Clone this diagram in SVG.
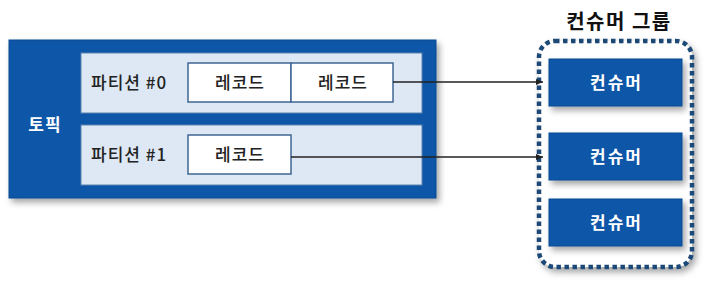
<svg xmlns="http://www.w3.org/2000/svg" width="722" height="291" viewBox="0 0 722 291">
<defs>
<filter id="sh" x="-10%" y="-10%" width="125%" height="135%">
<feDropShadow dx="3" dy="4" stdDeviation="3" flood-color="#000" flood-opacity="0.35"/>
</filter>
<marker id="arr" markerWidth="8" markerHeight="8" refX="7" refY="4" orient="auto" markerUnits="userSpaceOnUse">
<path d="M0,1 L7,4 L0,7 Z" fill="#222"/>
</marker>
<style>
text{font-family:"Noto Sans CJK KR","Noto Sans",sans-serif;}
.topic{fill:#0b56a8;stroke:#0a4a92;stroke-width:1;}
.part{fill:#dde8f4;stroke:#5d83b0;stroke-width:1;}
.rec{fill:#fff;stroke:#3f6694;stroke-width:1.5;}
.cons{fill:#0b56a8;stroke:#0a4a92;stroke-width:1;}
.wt{fill:#fff;font-size:17px;font-weight:700;text-anchor:middle;letter-spacing:2px;}
.bt{fill:#222;font-size:17px;font-weight:500;letter-spacing:1px;}
.ct{text-anchor:middle;}
.conn{stroke:#222;stroke-width:1.3;fill:none;marker-end:url(#arr);}
</style>
</defs>
<g id="topic">
<rect class="topic" x="9" y="40" width="427" height="158" filter="url(#sh)"/>
<text class="wt" x="45" y="131" style="letter-spacing:1px">토픽</text>
</g>
<g id="partition0">
<rect class="part" x="81" y="53" width="341" height="60"/>
<text class="bt" x="91" y="89">파티션 #0</text>
</g>
<g id="partition1">
<rect class="part" x="81" y="125" width="341" height="60"/>
<text class="bt" x="91" y="161">파티션 #1</text>
</g>
<g id="record0a">
<rect class="rec" x="188" y="63" width="103" height="39"/>
<text class="bt ct" x="240" y="89">레코드</text>
</g>
<g id="record0b">
<rect class="rec" x="291" y="63" width="102" height="39"/>
<text class="bt ct" x="343" y="89">레코드</text>
</g>
<g id="record1">
<rect class="rec" x="188" y="135" width="103" height="39"/>
<text class="bt ct" x="240" y="161">레코드</text>
</g>
<g id="consumer-group">
<rect x="539" y="41" width="153" height="226" rx="16" ry="16" fill="#fff" stroke="#1d4a78" stroke-width="4.5" stroke-dasharray="4.5 3.5" filter="url(#sh)"/>
<text x="619" y="29" font-size="20" font-weight="700" fill="#111" text-anchor="middle" letter-spacing="1.5">컨슈머 그룹</text>
</g>
<g id="consumer1">
<rect class="cons" x="549" y="59" width="133" height="47" filter="url(#sh)"/>
<text class="wt" x="616.5" y="89">컨슈머</text>
</g>
<g id="consumer2">
<rect class="cons" x="549" y="133" width="133" height="47" filter="url(#sh)"/>
<text class="wt" x="616.5" y="163">컨슈머</text>
</g>
<g id="consumer3">
<rect class="cons" x="549" y="199" width="133" height="47" filter="url(#sh)"/>
<text class="wt" x="616.5" y="229">컨슈머</text>
</g>
<g id="connectors">
<line class="conn" x1="393" y1="82" x2="543" y2="82"/>
<line class="conn" x1="291" y1="157" x2="543" y2="157"/>
</g>
</svg>
